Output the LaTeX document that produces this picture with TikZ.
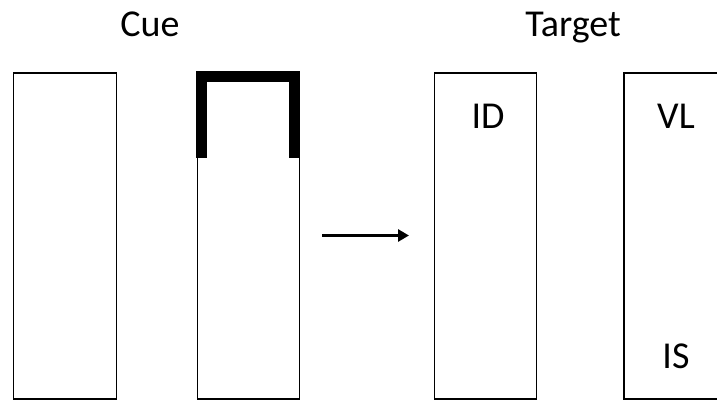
\documentclass[tikz,border=0pt]{standalone}
\usepackage{fontspec}
\setmainfont{Carlito}
\usetikzlibrary{arrows.meta}
\begin{document}
\begin{tikzpicture}[x=1pt,y=-1pt,
  panel/.style={draw=black, line width=1.6pt, minimum width=#1, minimum height=326pt, inner sep=0pt, anchor=north west},
  lbl/.style={font=\fontsize{38}{40}\selectfont, anchor=base, inner sep=0pt},
  cuebar/.style={line width=11pt, line join=miter, line cap=butt},
  conn/.style={line width=3pt, -{Stealth[length=11pt,width=12pt,inset=0pt]}}]
\useasboundingbox (0,0) rectangle (717,399);
\clip (0,0) rectangle (717,399);
\node[panel=103pt] (r1) at (12.5,72) {};
\node[panel=102pt] (r2) at (196.5,72) {};
\node[panel=102pt] (r3) at (433.5,72) {};
\node[panel=110pt] (r4) at (623,72) {};
\draw[cuebar] (201.5,157.5) -- (201.5,76.5) -- (294.5,76.5) -- (294.5,157.5);
\node[lbl] (cue) at (150,36) {Cue};
\node[lbl] (target) at (573,36) {Target};
\node[lbl] (id) at (488,128) {ID};
\node[lbl] (vl) at (676,128) {VL};
\node[lbl] (is) at (676,368) {IS};
\coordinate (a1) at (322,235.5);
\coordinate (a2) at (409,235.5);
\draw[conn] (a1) -- (a2);
\end{tikzpicture}
\end{document}
